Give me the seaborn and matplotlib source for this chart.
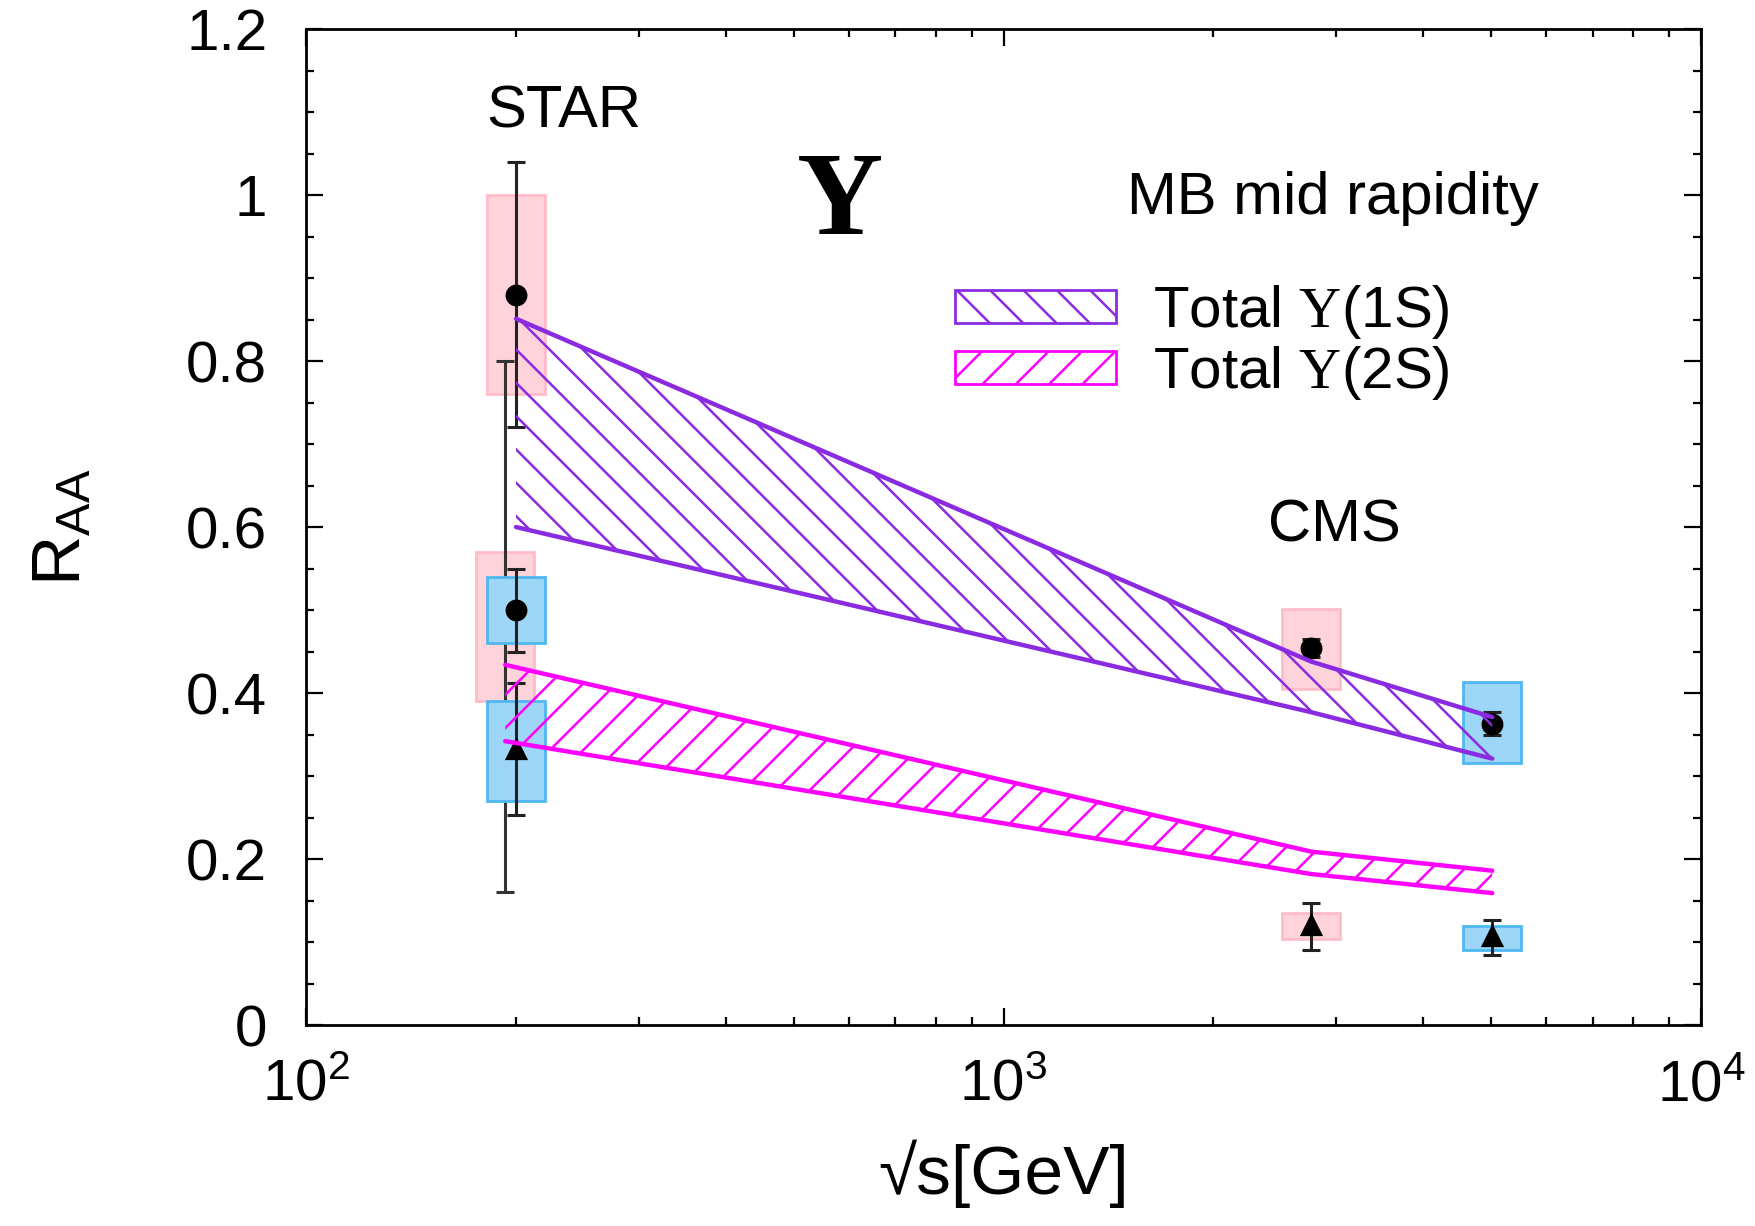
"""Upsilon R_AA vs sqrt(s): STAR and CMS points with model bands"""

import numpy as np
import pandas as pd
import seaborn as sns
import matplotlib.pyplot as plt
from matplotlib.patches import Patch
from matplotlib.ticker import MultipleLocator, FuncFormatter, LogLocator

# Upsilon(1S) points (circles)
ups1s_x = [200, 200, 2760, 5020]
ups1s_y = [0.88, 0.50, 0.454, 0.363]
ups1s_stat_lo = [0.72, 0.45, 0.443, 0.350]
ups1s_stat_hi = [1.04, 0.55, 0.465, 0.377]
ups1s_sys_lo = [0.76, 0.46, 0.405, 0.316]
ups1s_sys_hi = [1.00, 0.54, 0.501, 0.413]
ups1s_box = ['pink', 'blue', 'pink', 'blue']

# Upsilon(2S) points (triangles)
ups2s_x = [200, 2760, 5020]
ups2s_y = [0.334, 0.122, 0.108]
ups2s_stat_lo = [0.253, 0.090, 0.084]
ups2s_stat_hi = [0.412, 0.147, 0.127]
ups2s_sys_lo = [0.27, 0.104, 0.090]
ups2s_sys_hi = [0.39, 0.135, 0.119]
ups2s_box = ['blue', 'pink', 'blue']

# STAR Upsilon(2S+3S), shifted point without marker
ups23_x = [193]
ups23_y = [0.48]
ups23_stat_lo = [0.16]
ups23_stat_hi = [0.80]
ups23_sys_lo = [0.39]
ups23_sys_hi = [0.57]

# model bands
band1s_x = [200, 2760, 5020]
band1s_hi = [0.851, 0.438, 0.371]
band1s_lo = [0.600, 0.377, 0.321]
band2s_x = [193, 2760, 5020]
band2s_hi = [0.434, 0.209, 0.186]
band2s_lo = [0.342, 0.182, 0.159]

BOX_STYLE = {'pink': ('#ffd3da', '#ffbcc8'), 'blue': ('#9ed6f8', '#4fb8f2')}
BOXW = 1.1
PURPLE = '#8a2be2'
MAGENTA = '#ff00ff'


def draw_boxes(ax, xs, lo, hi, kinds, z):
    for x, l, h, k in zip(xs, lo, hi, kinds):
        face, edge = BOX_STYLE[k]
        ax.bar(x / BOXW, h - l, width=x * BOXW - x / BOXW, bottom=l, align='edge',
               color=face, edgecolor=edge, linewidth=1.0, zorder=z)


def draw_errors(ax, xs, ys, lo, hi, z, color='black'):
    ys = np.array(ys)
    yerr = [ys - np.array(lo), np.array(hi) - ys]
    ax.errorbar(xs, ys, yerr=yerr, fmt='none', ecolor=color, elinewidth=1.1,
                capsize=3.2, capthick=1.1, zorder=z)


def draw_band(ax, xs, lo, hi, color, hatch):
    px = list(xs) + list(xs)[::-1]
    py = list(hi) + list(lo)[::-1]
    ax.fill(px, py, facecolor='none', edgecolor=color, hatch=hatch, linewidth=0, zorder=4)
    df = pd.DataFrame({'x': list(xs) * 2, 'y': list(hi) + list(lo),
                       'edge': ['hi'] * len(xs) + ['lo'] * len(xs)})
    sns.lineplot(data=df, x='x', y='y', units='edge', estimator=None, ax=ax,
                 color=color, linewidth=1.6, zorder=5, legend=False)


def main():
    sns.set_theme(style='ticks')
    plt.rcParams['font.family'] = ['Liberation Sans', 'DejaVu Sans']
    plt.rcParams['mathtext.fontset'] = 'custom'
    plt.rcParams['mathtext.sf'] = 'Liberation Sans'
    plt.rcParams['mathtext.rm'] = 'Liberation Serif'
    plt.rcParams['mathtext.it'] = 'Liberation Serif:italic'
    plt.rcParams['hatch.linewidth'] = 0.9
    for key in ['text.color', 'axes.labelcolor', 'xtick.color', 'ytick.color', 'axes.edgecolor']:
        plt.rcParams[key] = 'black'

    fig = plt.figure(figsize=(8.775, 6.13), dpi=200)
    ax = fig.add_axes([0.1744, 0.1639, 0.7948, 0.8124])
    ax.set_xscale('log')

    # pink boxes first, then the long STAR error bar, then blue boxes
    pink1 = [i for i, k in enumerate(ups1s_box) if k == 'pink']
    blue1 = [i for i, k in enumerate(ups1s_box) if k == 'blue']
    pink2 = [i for i, k in enumerate(ups2s_box) if k == 'pink']
    blue2 = [i for i, k in enumerate(ups2s_box) if k == 'blue']
    sel = lambda arr, idx: [arr[i] for i in idx]

    draw_boxes(ax, sel(ups1s_x, pink1), sel(ups1s_sys_lo, pink1), sel(ups1s_sys_hi, pink1), ['pink'] * len(pink1), 1)
    draw_boxes(ax, sel(ups2s_x, pink2), sel(ups2s_sys_lo, pink2), sel(ups2s_sys_hi, pink2), ['pink'] * len(pink2), 1)
    draw_boxes(ax, ups23_x, ups23_sys_lo, ups23_sys_hi, ['pink'], 1)
    draw_errors(ax, ups23_x, ups23_y, ups23_stat_lo, ups23_stat_hi, 1.5, color='#333333')
    draw_boxes(ax, sel(ups1s_x, blue1), sel(ups1s_sys_lo, blue1), sel(ups1s_sys_hi, blue1), ['blue'] * len(blue1), 2)
    draw_boxes(ax, sel(ups2s_x, blue2), sel(ups2s_sys_lo, blue2), sel(ups2s_sys_hi, blue2), ['blue'] * len(blue2), 2)

    draw_errors(ax, ups1s_x, ups1s_y, ups1s_stat_lo, ups1s_stat_hi, 3, color='#222222')
    draw_errors(ax, ups2s_x, ups2s_y, ups2s_stat_lo, ups2s_stat_hi, 3, color='#222222')
    sns.scatterplot(x=ups1s_x, y=ups1s_y, ax=ax, marker='o', s=62, color='black',
                    edgecolor='black', linewidth=0, zorder=3.5)
    sns.scatterplot(x=ups2s_x, y=ups2s_y, ax=ax, marker='^', s=70, color='black',
                    edgecolor='black', linewidth=0, zorder=3.5)

    draw_band(ax, band1s_x, band1s_lo, band1s_hi, PURPLE, '\\\\')
    draw_band(ax, band2s_x, band2s_lo, band2s_hi, MAGENTA, '//')

    ax.set_xlim(1e2, 1e4)
    ax.set_ylim(0, 1.2)
    ax.xaxis.set_major_locator(LogLocator(base=10, numticks=5))
    ax.xaxis.set_minor_locator(LogLocator(base=10, subs=np.arange(2, 10), numticks=20))
    ax.xaxis.set_major_formatter(FuncFormatter(lambda v, p: r'$\mathsf{10^{%d}}$' % round(np.log10(v))))
    ax.yaxis.set_major_locator(MultipleLocator(0.2))
    ax.yaxis.set_minor_locator(MultipleLocator(0.05))
    ax.yaxis.set_major_formatter(FuncFormatter(lambda v, p: '%g' % round(v, 2)))
    ax.tick_params(which='both', direction='in', top=True, right=True, labelsize=21, colors='black')
    ax.tick_params(which='major', length=6, width=0.8)
    ax.tick_params(which='minor', length=3, width=0.8)
    ax.tick_params(axis='y', pad=14)
    ax.tick_params(axis='x', pad=12)
    for sp in ax.spines.values():
        sp.set_linewidth(1.0)
        sp.set_color('black')

    ax.set_ylabel(r'$\mathsf{R_{AA}}$', fontsize=25)
    ax.yaxis.set_label_coords(-0.152, 0.5)
    ax.set_xlabel('√s[GeV]', fontsize=25)
    ax.xaxis.set_label_coords(0.5, -0.115)

    ax.text(234, 1.10, 'STAR', fontsize=21.5, ha='center', va='center')
    ax.text(2980, 0.601, 'CMS', fontsize=21.5, ha='center', va='center')
    ax.text(2965, 0.996, 'MB mid rapidity', fontsize=21.5, ha='center', va='center')
    ax.text(582, 0.988, 'Υ', fontsize=43, ha='center', va='center',
            family=['Liberation Serif', 'DejaVu Serif'], weight='bold')

    handles = [Patch(facecolor='white', edgecolor=PURPLE, hatch='\\\\', linewidth=1.0),
               Patch(facecolor='white', edgecolor=MAGENTA, hatch='//', linewidth=1.0)]
    labels = [r'Total $\Upsilon$(1S)', r'Total $\Upsilon$(2S)']
    ax.legend(handles, labels, loc='upper left', bbox_to_anchor=(0.4652, 0.745),
              frameon=False, fontsize=21, handlelength=2.76, handleheight=0.5,
              handletextpad=0.63, labelspacing=0.05, borderpad=0, borderaxespad=0)

    fig.savefig('out.png', dpi=200)


if __name__ == '__main__':
    main()
